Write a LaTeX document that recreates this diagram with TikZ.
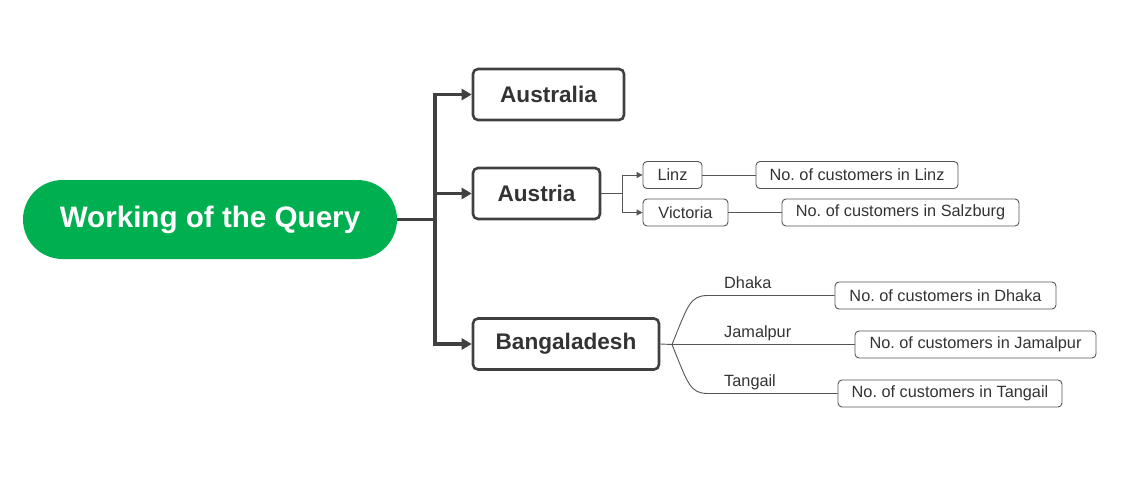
\documentclass[tikz,border=0pt]{standalone}
\usepackage{fontspec}
\setmainfont{Liberation Sans}
\frenchspacing
\usetikzlibrary{arrows.meta}
\definecolor{qgreen}{HTML}{00B050}
\definecolor{dline}{HTML}{404040}
\definecolor{tline}{HTML}{555555}
\definecolor{txt}{HTML}{333333}
\tikzset{
  rootbox/.style={fill=qgreen, rounded corners=39.5pt, minimum width=374pt, minimum height=79pt, inner sep=0pt, text=white, font=\fontsize{29.6}{34}\selectfont\bfseries},
  countrybox/.style={draw=dline, line width=2.6pt, rounded corners=5pt, minimum height=51pt, inner sep=0pt, text=txt, font=\fontsize{22.6}{26}\selectfont\bfseries},
  smallbox/.style={draw=tline, line width=0.9pt, rounded corners=4pt, minimum height=27pt, inner sep=0pt, text=txt, font=\fontsize{16.3}{19}\selectfont},
  lbl/.style={anchor=base west, inner sep=0pt, text=txt, font=\fontsize{16.3}{19}\selectfont},
  trunk/.style={draw=dline, line width=3.5pt},
  trunkarrow/.style={draw=dline, line width=3.5pt, -{Triangle[length=10pt,width=11pt]}},
  thinline/.style={draw=tline, line width=0.9pt},
  thinarrow/.style={draw=tline, line width=0.9pt, -{Triangle[length=6pt,width=6pt]}},
}
\begin{document}
\begin{tikzpicture}[x=1pt,y=-1pt]
\useasboundingbox (0,0) rectangle (1123,481);
% root
\node[rootbox] (q) at (210,219.5) {Working of the Query};
% countries
\node[countrybox, minimum width=151pt] (aus) at (548.5,94.5) {Australia};
\node[countrybox, minimum width=127pt] (at) at (536.5,193.5) {Austria};
\node[countrybox, minimum width=186pt] (bd) at (566,344) {Bangaladesh};
% trunk
\coordinate (tr) at (435,219.5);
\draw[trunk] (q.east) -- (tr);
\draw[trunkarrow] (tr) |- (aus.west);
\draw[trunkarrow] (tr) |- (at.west);
\draw[trunkarrow] (tr) |- (bd.west);
% Austria children
\node[smallbox, minimum width=59pt] (linz) at (672.5,175) {Linz};
\node[smallbox, minimum width=85pt] (vic) at (685.5,212.5) {Victoria};
\node[smallbox, minimum width=202pt] (clinz) at (857,175) {No. of customers in Linz};
\node[smallbox, minimum width=237pt] (csal) at (900.5,212.5) {No. of customers in Salzburg};
\coordinate (aj) at (622,193.5);
\draw[thinline] (at.east) -- (aj);
\draw[thinarrow] (aj) |- (linz.west);
\draw[thinarrow] (aj) |- (vic.west);
\draw[thinline] (linz.east) -- (clinz.west);
\draw[thinline] (vic.east) -- (csal.west);
% Bangladesh children
\node[smallbox, minimum width=221pt] (cdh) at (945.5,295.5) {No. of customers in Dhaka};
\node[smallbox, minimum width=241pt] (cjm) at (975.5,344.5) {No. of customers in Jamalpur};
\node[smallbox, minimum width=224pt] (ctg) at (950,393.5) {No. of customers in Tangail};
\coordinate (bj) at (672,344.5);
\draw[thinline] (bd.east) -- (bj);
\draw[thinline] (bj) .. controls (688,305) and (690,295.5) .. (708,295.5) -- (cdh.west);
\draw[thinline] (bj) -- (cjm.west);
\draw[thinline] (bj) .. controls (688,384) and (690,393.5) .. (708,393.5) -- (ctg.west);
\node[lbl] (ldh) at (724,288) {Dhaka};
\node[lbl] (ljm) at (724,337) {Jamalpur};
\node[lbl] (ltg) at (724,386) {Tangail};
\end{tikzpicture}
\end{document}
